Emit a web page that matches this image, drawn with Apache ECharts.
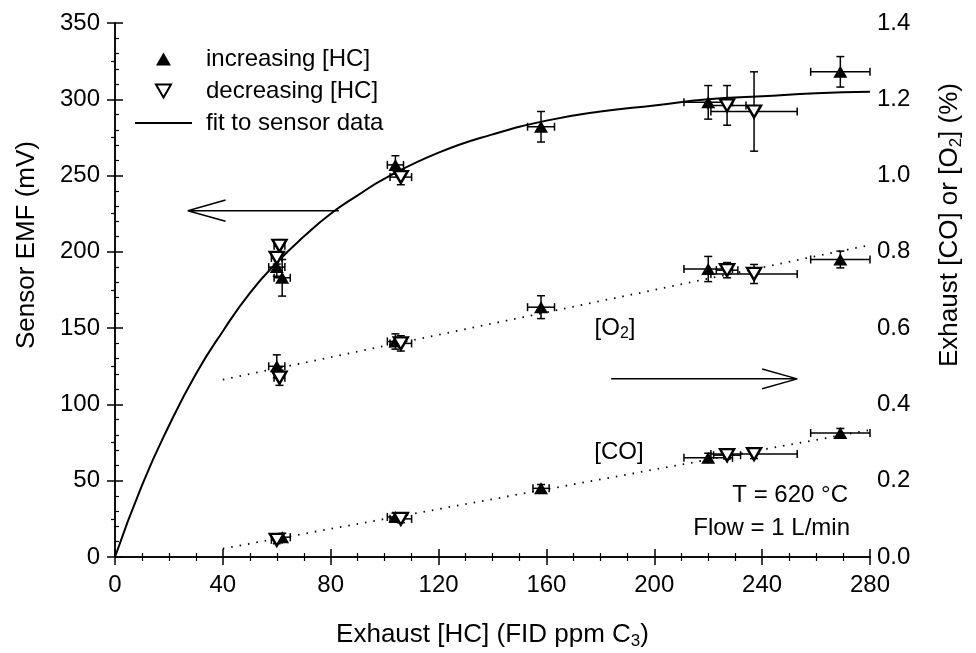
<!DOCTYPE html>
<html>
<head>
<meta charset="utf-8">
<title>Sensor EMF vs exhaust HC</title>
<script src="https://cdn.jsdelivr.net/npm/echarts@6/dist/echarts.min.js"></script>
</head>
<body style="margin:0;background:#fff">
<div id="main" style="width:976px;height:653px"></div>
<script>
// [HC ppm, value, x error, y error]
var emfIncreasing = [[60, 190, 3, 6], [62, 183, 3, 12], [104, 257, 3, 6], [158, 282, 5, 10], [220, 298, 9, 11], [269, 318, 11, 10]];
var emfDecreasing = [[61, 204, 2, 4], [60, 196, 2, 4], [106, 249, 4, 5], [227, 296, 7, 13], [237, 292, 16, 26]];
var o2Increasing = [[60, 0.50, 3, 0.03], [104, 0.565, 3, 0.02], [158, 0.655, 5, 0.03], [220, 0.755, 9, 0.033], [269, 0.78, 11, 0.022]];
var o2Decreasing = [[61, 0.47, 2, 0.02], [106, 0.56, 4, 0.02], [227, 0.752, 4, 0.02], [237, 0.742, 16, 0.025]];
var coIncreasing = [[62, 0.052, 3, 0.01], [104, 0.105, 3, 0.01], [158, 0.18, 3, 0.01], [220, 0.26, 9, 0.012], [269, 0.325, 11, 0.012]];
var coDecreasing = [[60, 0.045, 2, 0.01], [106, 0.10, 4, 0.01], [227, 0.267, 5, 0.01], [237, 0.27, 16, 0.012]];

// fit curve
var fitHC = [0, 10, 20, 30, 40, 50, 60, 70, 80, 90, 100, 120, 140, 160, 180, 200, 220, 240, 260, 280];
var fitEMF = [0, 47, 86, 120, 148, 173, 193, 210, 225, 237, 248, 265, 277, 286, 292, 296, 300, 302, 304, 305];

// dotted trend lines (end points)
var o2Trend = [[40, 0.465], [280, 0.818]];
var coTrend = [[40, 0.022], [280, 0.333]];

// arrows: shaft and head, in data units (left arrow on mV axis, right arrow on % axis)
var leftArrow = [[83, 227], [27, 227], null, [41, 234], [27, 227], [41, 220]];
var rightArrow = [[184, 0.467], [253, 0.467], null, [240, 0.493], [253, 0.467], [240, 0.441]];

var xTicks = [0, 280, 40];
var emfTicks = [0, 350, 50];
var pctTicks = [0, 1.4, 0.2];

var font = "'Liberation Sans', Arial, sans-serif";
var upTri = 'path://M5,0L10,8.66L0,8.66Z';
var downTri = 'path://M0,0L10,0L5,8.66Z';
var lineIcon = 'path://M0,0H60V2H0Z';

function pairs(arr) {
    return arr.map(function (d) { return [d[0], d[1]]; });
}

function drawErrorBars(params, api) {
    var x = api.value(0), y = api.value(1), ex = api.value(2), ey = api.value(3);
    var lo = api.coord([x, y - ey]), hi = api.coord([x, y + ey]);
    var le = api.coord([x - ex, y]), ri = api.coord([x + ex, y]);
    var cap = 4;
    var st = { stroke: '#000', lineWidth: 1.5, fill: null };
    return {
        type: 'group',
        children: [
            { type: 'line', shape: { x1: lo[0], y1: lo[1], x2: hi[0], y2: hi[1] }, style: st },
            { type: 'line', shape: { x1: lo[0] - cap, y1: lo[1], x2: lo[0] + cap, y2: lo[1] }, style: st },
            { type: 'line', shape: { x1: hi[0] - cap, y1: hi[1], x2: hi[0] + cap, y2: hi[1] }, style: st },
            { type: 'line', shape: { x1: le[0], y1: le[1], x2: ri[0], y2: ri[1] }, style: st },
            { type: 'line', shape: { x1: le[0], y1: le[1] - cap, x2: le[0], y2: le[1] + cap }, style: st },
            { type: 'line', shape: { x1: ri[0], y1: ri[1] - cap, x2: ri[0], y2: ri[1] + cap }, style: st }
        ]
    };
}

function errSeries(data, yIdx) {
    return {
        type: 'custom',
        name: 'err',
        xAxisIndex: 0,
        yAxisIndex: yIdx,
        renderItem: drawErrorBars,
        encode: { x: 0, y: 1 },
        data: data,
        z: 2,
        silent: true
    };
}

function incSeries(data, yIdx) {
    return {
        type: 'scatter',
        name: 'increasing [HC]',
        yAxisIndex: yIdx,
        symbol: upTri,
        symbolSize: [14, 12],
        itemStyle: { color: '#000', opacity: 1 },
        data: pairs(data),
        z: 4
    };
}

function decSeries(data, yIdx) {
    return {
        type: 'scatter',
        name: 'decreasing [HC]',
        yAxisIndex: yIdx,
        symbol: downTri,
        symbolSize: [14, 12],
        itemStyle: { color: '#fff', borderColor: '#000', borderWidth: 2.4, opacity: 1 },
        data: pairs(data),
        z: 5
    };
}

var axisLineSt = { lineStyle: { color: '#000', width: 1.5 } };

var chart = echarts.init(document.getElementById('main'), null, { renderer: 'canvas' });

var option = {
    backgroundColor: '#fff',
    animation: false,
    grid: { left: 115, right: 106, top: 23, bottom: 96, containLabel: false, outerBoundsMode: 'none' },
    legend: {
        data: [
            { name: 'increasing [HC]', icon: upTri },
            { name: 'decreasing [HC]', icon: downTri },
            { name: 'fit to sensor data', icon: lineIcon }
        ],
        orient: 'vertical',
        left: 135,
        top: 47,
        padding: 0,
        itemWidth: 57,
        itemHeight: 13,
        itemGap: 8,
        selectedMode: false,
        textStyle: { color: '#000', fontFamily: font, fontSize: 24, lineHeight: 24, padding: [0, 0, 0, 9] }
    },
    xAxis: [{
        type: 'value',
        position: 'bottom',
        min: xTicks[0], max: xTicks[1], interval: xTicks[2],
        axisLine: axisLineSt,
        axisTick: { inside: true, length: 8, lineStyle: { color: '#000', width: 1.5 } },
        minorTick: { show: true, splitNumber: 4, length: 4, lineStyle: { color: '#000', width: 1.2 } },
        splitLine: { show: false },
        axisLabel: { margin: 16, color: '#000', fontFamily: font, fontSize: 24 },
        name: '{a|Exhaust [HC] (FID ppm C}{s|3}{a|)}',
        nameLocation: 'middle',
        nameGap: 62,
        nameTextStyle: {
            rich: {
                a: { fontFamily: font, fontSize: 26, color: '#000' },
                s: { fontFamily: font, fontSize: 17, color: '#000', verticalAlign: 'bottom', padding: [14, 0, 0, 0] }
            }
        }
    }, {
        type: 'value',
        position: 'top',
        min: xTicks[0], max: xTicks[1], interval: xTicks[2],
        axisLine: axisLineSt,
        axisTick: { inside: true, length: 8, lineStyle: { color: '#000', width: 1.5 } },
        minorTick: { show: true, splitNumber: 4, length: 4, lineStyle: { color: '#000', width: 1.2 } },
        splitLine: { show: false },
        axisLabel: { show: false }
    }],
    yAxis: [{
        type: 'value',
        position: 'left',
        min: emfTicks[0], max: emfTicks[1], interval: emfTicks[2],
        axisLine: { show: true, lineStyle: { color: '#000', width: 1.5 } },
        axisTick: { show: true, inside: true, length: 8, lineStyle: { color: '#000', width: 1.5 } },
        minorTick: { show: true, splitNumber: 5, length: 4, lineStyle: { color: '#000', width: 1.2 } },
        splitLine: { show: false },
        axisLabel: { margin: 15, color: '#000', fontFamily: font, fontSize: 24 }
    }, {
        type: 'value',
        position: 'right',
        min: pctTicks[0], max: pctTicks[1], interval: pctTicks[2],
        alignTicks: false,
        axisLine: { show: true, lineStyle: { color: '#000', width: 1.5 } },
        axisTick: { show: true, inside: true, length: 8, lineStyle: { color: '#000', width: 1.5 } },
        minorTick: { show: true, splitNumber: 2, length: 4, lineStyle: { color: '#000', width: 1.2 } },
        splitLine: { show: false },
        axisLabel: {
            margin: 7, color: '#000', fontFamily: font, fontSize: 24,
            formatter: function (v) { return v.toFixed(1); }
        }
    }],
    graphic: [
        {
            type: 'text', x: 27, y: 245, rotation: Math.PI / 2,
            style: { text: 'Sensor EMF (mV)', font: '26px ' + font, fill: '#000', align: 'center', verticalAlign: 'middle' }
        },
        {
            type: 'text', x: 950, y: 225, rotation: Math.PI / 2,
            style: {
                text: '{a|Exhaust [CO] or [O}{s|2}{a|] (%)}',
                align: 'center', verticalAlign: 'middle',
                rich: {
                    a: { font: '26px ' + font, fill: '#000' },
                    s: { font: '17px ' + font, fill: '#000', padding: [12, 0, 0, 0] }
                }
            }
        },
        {
            type: 'text', x: 615, y: 328,
            style: {
                text: '{a|[O}{s|2}{a|]}', align: 'center', verticalAlign: 'middle',
                rich: {
                    a: { font: '24px ' + font, fill: '#000' },
                    s: { font: '16px ' + font, fill: '#000', padding: [12, 0, 0, 0] }
                }
            }
        },
        {
            type: 'text', x: 619, y: 452,
            style: { text: '[CO]', font: '24px ' + font, fill: '#000', align: 'center', verticalAlign: 'middle' }
        },
        {
            type: 'text', x: 848, y: 495,
            style: { text: 'T = 620 °C', font: '24px ' + font, fill: '#000', align: 'right', verticalAlign: 'middle' }
        },
        {
            type: 'text', x: 850, y: 528,
            style: { text: 'Flow = 1 L/min', font: '24px ' + font, fill: '#000', align: 'right', verticalAlign: 'middle' }
        }
    ],
    series: [
        errSeries(emfIncreasing.concat(emfDecreasing), 0),
        errSeries(o2Increasing.concat(o2Decreasing, coIncreasing, coDecreasing), 1),
        {
            type: 'line',
            name: 'fit to sensor data',
            yAxisIndex: 0,
            smooth: true,
            symbol: 'none',
            itemStyle: { color: '#000' },
            lineStyle: { color: '#000', width: 2 },
            data: fitHC.map(function (x, i) { return [x, fitEMF[i]]; }),
            z: 3
        },
        {
            type: 'line', name: 'o2 trend', yAxisIndex: 1, symbol: 'none', silent: true,
            lineStyle: { color: '#000', width: 1.8, type: [1.5, 7] },
            data: o2Trend, z: 1
        },
        {
            type: 'line', name: 'co trend', yAxisIndex: 1, symbol: 'none', silent: true,
            lineStyle: { color: '#000', width: 1.8, type: [1.5, 7] },
            data: coTrend, z: 1
        },
        {
            type: 'line', name: 'left arrow', yAxisIndex: 0, symbol: 'none', silent: true,
            connectNulls: false,
            lineStyle: { color: '#000', width: 1.5 },
            data: leftArrow, z: 3
        },
        {
            type: 'line', name: 'right arrow', yAxisIndex: 1, symbol: 'none', silent: true,
            connectNulls: false,
            lineStyle: { color: '#000', width: 1.5 },
            data: rightArrow, z: 3
        },
        incSeries(emfIncreasing, 0),
        decSeries(emfDecreasing, 0),
        incSeries(o2Increasing, 1),
        decSeries(o2Decreasing, 1),
        incSeries(coIncreasing, 1),
        decSeries(coDecreasing, 1)
    ]
};

chart.setOption(option);
</script>
</body>
</html>
